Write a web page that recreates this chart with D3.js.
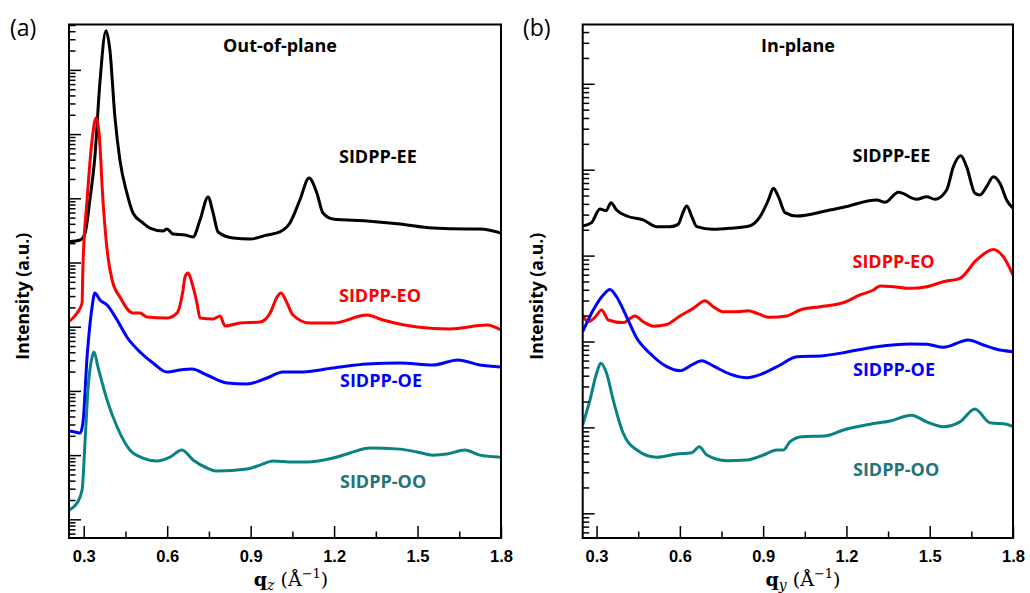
<!DOCTYPE html>
<html>
<head>
<meta charset="utf-8">
<script src="https://cdn.jsdelivr.net/npm/d3@7"></script>
<style>
  html, body { margin: 0; padding: 0; background: #fff; }
  svg { display: block; }
</style>
</head>
<body>
<svg id="chart" width="1030" height="593"></svg>
<script>
// ---- GIWAXS line cuts: [q (Å^-1), intensity (a.u.)] ----

// (a) Out-of-plane
const outEE = [
  [0.247, 2.11e4], [0.287, 2.24e4], [0.305, 2.88e4], [0.322, 9.4e4], [0.340, 4.4e5],
  [0.358, 6.25e6], [0.380, 4.08e7], [0.394, 2.04e7], [0.412, 1.85e6], [0.430, 3.95e5],
  [0.455, 1.21e5], [0.477, 5.9e4], [0.513, 4.12e4], [0.538, 3.44e4], [0.585, 3.1e4],
  [0.599, 3.33e4], [0.621, 2.78e4], [0.664, 2.68e4], [0.693, 2.5e4], [0.718, 4.59e4],
  [0.747, 1.05e5], [0.765, 5.9e4], [0.783, 2.99e4], [0.837, 2.41e4], [0.898, 2.32e4],
  [0.959, 2.68e4], [1.005, 2.99e4], [1.041, 4.12e4], [1.077, 9.4e4], [1.110, 2.07e5],
  [1.138, 1.21e5], [1.160, 5.9e4], [1.196, 4.76e4], [1.318, 4.43e4], [1.437, 3.98e4],
  [1.555, 3.44e4], [1.678, 3.33e4], [1.724, 3.33e4], [1.800, 2.88e4]
];
const outEO = [
  [0.247, 1.2e3], [0.276, 1.63e3], [0.294, 2.34e3], [0.297, 8.5e3], [0.312, 9.4e4],
  [0.330, 8.1e5], [0.344, 1.78e6], [0.355, 1.04e6], [0.369, 9.4e4], [0.384, 1.57e4],
  [0.402, 5.3e3], [0.430, 2.9e3], [0.477, 1.63e3], [0.502, 1.63e3], [0.527, 1.42e3],
  [0.599, 1.37e3], [0.635, 1.63e3], [0.657, 3.73e3], [0.664, 5.94e3], [0.675, 6.86e3],
  [0.689, 4.8e3], [0.707, 2.34e3], [0.718, 1.37e3], [0.765, 1.32e3], [0.790, 1.47e3],
  [0.808, 1.03e3], [0.862, 1.14e3], [0.934, 1.18e3], [0.970, 1.63e3], [0.995, 2.9e3],
  [1.009, 3.35e3], [1.031, 2.34e3], [1.052, 1.52e3], [1.113, 1.14e3], [1.196, 1.14e3],
  [1.318, 1.52e3], [1.376, 1.27e3], [1.498, 9.9e2], [1.617, 9.2e2], [1.750, 1.06e3],
  [1.800, 8.9e2]
];
const outOE = [
  [0.247, 23.7], [0.269, 22.9], [0.287, 22.1], [0.297, 31.6], [0.312, 337],
  [0.330, 2.03e3], [0.340, 3.35e3], [0.358, 2.61e3], [0.384, 2.18e3], [0.420, 1.27e3],
  [0.455, 692], [0.502, 404], [0.549, 272], [0.599, 197], [0.646, 212],
  [0.689, 219], [0.743, 177], [0.815, 133], [0.887, 128], [0.959, 159],
  [1.016, 197], [1.077, 197], [1.196, 227], [1.318, 262], [1.437, 272],
  [1.555, 253], [1.645, 303], [1.724, 253], [1.800, 236]
];
const outOO = [
  [0.247, 1.40], [0.276, 1.79], [0.294, 2.86], [0.305, 17.2], [0.315, 103],
  [0.330, 337], [0.337, 404], [0.351, 236], [0.384, 72], [0.420, 27.4],
  [0.466, 12.0], [0.513, 9.0], [0.563, 8.1], [0.610, 9.3], [0.653, 12.0],
  [0.693, 8.4], [0.743, 6.3], [0.779, 5.65], [0.887, 6.07], [0.934, 7.0],
  [0.980, 8.1], [1.052, 7.8], [1.102, 7.8], [1.196, 9.0], [1.257, 10.8],
  [1.329, 12.9], [1.437, 12.4], [1.498, 11.2], [1.555, 10.0], [1.606, 10.4],
  [1.670, 12.0], [1.724, 10.0], [1.800, 9.3]
];

// (b) In-plane
const inEE = [
  [0.250, 2.21e3], [0.282, 2.42e3], [0.312, 3.49e3], [0.334, 3.33e3], [0.352, 4.13e3],
  [0.372, 3.4e3], [0.409, 2.89e3], [0.468, 2.6e3], [0.517, 2.17e3], [0.564, 2.17e3],
  [0.594, 2.31e3], [0.610, 3.11e3], [0.625, 3.78e3], [0.643, 2.84e3], [0.661, 2.17e3],
  [0.720, 2.02e3], [0.781, 2.08e3], [0.853, 2.23e3], [0.889, 2.84e3], [0.919, 4.44e3],
  [0.937, 6.07e3], [0.955, 4.85e3], [0.979, 3.16e3], [1.021, 2.89e3], [1.129, 3.33e3],
  [1.189, 3.65e3], [1.309, 4.44e3], [1.339, 4.17e3], [1.387, 5.46e3], [1.453, 4.52e3],
  [1.489, 4.85e3], [1.519, 4.52e3], [1.561, 5.8e3], [1.585, 1.08e4], [1.612, 1.45e4],
  [1.633, 1.08e4], [1.663, 5.31e3], [1.681, 5.07e3], [1.705, 6.34e3], [1.729, 8.28e3],
  [1.753, 6.95e3], [1.777, 4.44e3], [1.800, 3.56e3]
];
const inEO = [
  [0.250, 203], [0.269, 170], [0.294, 191], [0.318, 233], [0.342, 178],
  [0.396, 166], [0.438, 198], [0.468, 170], [0.504, 151], [0.553, 158],
  [0.600, 198], [0.648, 243], [0.691, 299], [0.720, 254], [0.756, 222],
  [0.805, 222], [0.847, 228], [0.877, 213], [0.925, 191], [0.985, 198],
  [1.033, 233], [1.105, 254], [1.189, 283], [1.249, 348], [1.297, 398],
  [1.321, 443], [1.369, 434], [1.429, 416], [1.489, 434], [1.549, 497],
  [1.609, 544], [1.669, 889], [1.729, 1.18e3], [1.765, 971], [1.800, 594]
];
const inOE = [
  [0.250, 130], [0.288, 233], [0.324, 348], [0.348, 403], [0.372, 332],
  [0.408, 194], [0.445, 109], [0.492, 72.9], [0.553, 50.9], [0.600, 45.7],
  [0.643, 53.3], [0.679, 59.8], [0.720, 51.9], [0.781, 41.8], [0.841, 37.9],
  [0.901, 42.7], [0.961, 53.3], [1.021, 66.5], [1.117, 68.4], [1.189, 74.1],
  [1.309, 86.9], [1.429, 93.5], [1.489, 93], [1.549, 85.5], [1.639, 104],
  [1.693, 91], [1.741, 81.1], [1.800, 76]
];
const inOO = [
  [0.250, 10.7], [0.276, 20.8], [0.300, 42.7], [0.315, 55.7], [0.336, 42.7],
  [0.360, 20.8], [0.396, 8.54], [0.445, 5.46], [0.517, 4.49], [0.589, 4.9],
  [0.643, 5.08], [0.670, 5.96], [0.697, 4.77], [0.769, 4.1], [0.841, 4.17],
  [0.901, 4.77], [0.949, 5.46], [0.973, 5.46], [0.997, 6.82], [1.039, 7.8],
  [1.129, 8.0], [1.189, 9.33], [1.285, 10.9], [1.357, 11.9], [1.435, 13.9],
  [1.489, 11.6], [1.549, 10.2], [1.609, 11.6], [1.663, 16.4], [1.717, 11.3],
  [1.777, 10.9], [1.800, 10.2]
];

// Axis ticks and labels
const seriesNames = ["SIDPP-EE", "SIDPP-EO", "SIDPP-OE", "SIDPP-OO"];
const xMajorTicks = [0.3, 0.6, 0.9, 1.2, 1.5, 1.8];
const xMinorTicks = [0.45, 0.75, 1.05, 1.35, 1.65];
const panelTitles = ["Out-of-plane", "In-plane"];
const panelTags = ["(a)", "(b)"];

// ---- drawing ----
const lineColors = ["#000000", "#ff0000", "#0000ff", "#0b8282"];
const labelColors = ["#000000", "#ff0000", "#0000ff", "#24737a"];

const panels = [
  {
    left: 69, right: 501, top: 24.5, bottom: 538,
    xDomain: [0.247, 1.8], yDomain: [0.512, 5.09e7],
    data: [outEE, outEO, outOE, outOO],
    labelPos: [[339, 163], [339, 301.5], [340, 387], [340, 488]],
    titleX: 280, tagX: 10, ylabX: 29, xSub: "z", xlabX: 291
  },
  {
    left: 582.7, right: 1013, top: 24.5, bottom: 538,
    xDomain: [0.25, 1.8], yDomain: [0.516, 4.9e5],
    data: [inEE, inEO, inOE, inOO],
    labelPos: [[852.5, 162.3], [852.5, 268.3], [853, 375.7], [853, 476]],
    titleX: 798, tagX: 523, ylabX: 543, xSub: "y", xlabX: 803
  }
];

const svg = d3.select("#chart");
const sansBold = "'Open Sans', 'DejaVu Sans', sans-serif";

panels.forEach((p, pi) => {
  const x = d3.scaleLinear().domain(p.xDomain).range([p.left, p.right]);
  const y = d3.scaleLog().domain(p.yDomain).range([p.bottom, p.top]);
  const g = svg.append("g");

  // log ticks: decades and 2..9 sub-decades
  const lo = Math.floor(Math.log10(p.yDomain[0])), hi = Math.ceil(Math.log10(p.yDomain[1]));
  const yMajor = [], yMinor = [];
  for (let k = lo; k <= hi; k++) {
    const base = Math.pow(10, k);
    if (base >= p.yDomain[0] && base <= p.yDomain[1]) yMajor.push(base);
    for (let m = 2; m <= 9; m++) {
      const v = m * base;
      if (v >= p.yDomain[0] && v <= p.yDomain[1] * 0.999) yMinor.push(v);
    }
  }

  const clipId = "clip" + pi;
  svg.append("clipPath").attr("id", clipId).append("rect")
    .attr("x", p.left).attr("y", p.top)
    .attr("width", p.right - p.left).attr("height", p.bottom - p.top);

  // curves
  const line = d3.line()
    .x(d => x(d[0])).y(d => y(d[1]))
    .curve(d3.curveMonotoneX);
  p.data.forEach((s, si) => {
    g.append("path").datum(s)
      .attr("d", line)
      .attr("clip-path", `url(#${clipId})`)
      .attr("fill", "none")
      .attr("stroke", lineColors[si])
      .attr("stroke-width", 3)
      .attr("stroke-linejoin", "round");
  });

  // y ticks (inward)
  const yAxisMajor = d3.axisLeft(y).tickValues(yMajor).tickSize(-12).tickFormat("");
  const yAxisMinor = d3.axisLeft(y).tickValues(yMinor).tickSize(-6.5).tickFormat("");
  [yAxisMajor, yAxisMinor].forEach(ax => {
    const a = g.append("g").attr("transform", `translate(${p.left},0)`).call(ax);
    a.select(".domain").remove();
    a.selectAll("line").attr("stroke", "#000").attr("stroke-width", 1.5);
  });

  // x ticks (inward) with labels
  const xAxisMajor = d3.axisBottom(x).tickValues(xMajorTicks).tickSize(-12)
    .tickPadding(12).tickFormat(d3.format(".1f"));
  const xAxisMinor = d3.axisBottom(x).tickValues(xMinorTicks).tickSize(-6.5).tickFormat("");
  const ax1 = g.append("g").attr("transform", `translate(0,${p.bottom})`).call(xAxisMajor);
  const ax2 = g.append("g").attr("transform", `translate(0,${p.bottom})`).call(xAxisMinor);
  [ax1, ax2].forEach(a => {
    a.select(".domain").remove();
    a.selectAll("line").attr("stroke", "#000").attr("stroke-width", 1.5);
  });
  ax1.selectAll("text")
    .attr("fill", "#000")
    .style("font-family", "'Liberation Sans', Arial, sans-serif")
    .style("font-weight", "bold")
    .style("font-size", "16.5px");

  // frame
  g.append("rect")
    .attr("x", p.left).attr("y", p.top)
    .attr("width", p.right - p.left).attr("height", p.bottom - p.top)
    .attr("fill", "none").attr("stroke", "#000").attr("stroke-width", 2);

  // series labels
  seriesNames.forEach((name, si) => {
    g.append("text")
      .attr("x", p.labelPos[si][0]).attr("y", p.labelPos[si][1])
      .attr("fill", labelColors[si])
      .style("font-family", sansBold).style("font-weight", "bold").style("font-size", "18px")
      .text(name);
  });

  // panel title
  g.append("text")
    .attr("x", p.titleX).attr("y", 52)
    .attr("text-anchor", "middle")
    .style("font-family", sansBold).style("font-weight", "bold").style("font-size", "18px")
    .text(panelTitles[pi]);

  // panel tag
  g.append("text")
    .attr("x", p.tagX).attr("y", 36)
    .style("font-family", sansBold).style("font-size", "23px")
    .text(panelTags[pi]);

  // y label
  g.append("text")
    .attr("transform", `translate(${p.ylabX},${(p.top + p.bottom) / 2 + 15}) rotate(-90)`)
    .attr("text-anchor", "middle")
    .style("font-family", sansBold).style("font-weight", "bold").style("font-size", "17.5px")
    .text("Intensity (a.u.)");

  // x label: q_sub (Å^-1)
  const xl = g.append("text")
    .attr("x", p.xlabX).attr("y", 586)
    .attr("text-anchor", "middle")
    .style("font-family", "'DejaVu Serif', 'Liberation Serif', serif")
    .style("font-size", "19px");
  xl.append("tspan").style("font-weight", "bold").text("q");
  xl.append("tspan").attr("dy", 4).style("font-style", "italic").style("font-size", "14px").text(p.xSub);
  xl.append("tspan").attr("dy", -4).text(" (Å");
  xl.append("tspan").attr("dy", -8).style("font-size", "13px").text("\u22121");
  xl.append("tspan").attr("dy", 8).text(")");
});
</script>
</body>
</html>
